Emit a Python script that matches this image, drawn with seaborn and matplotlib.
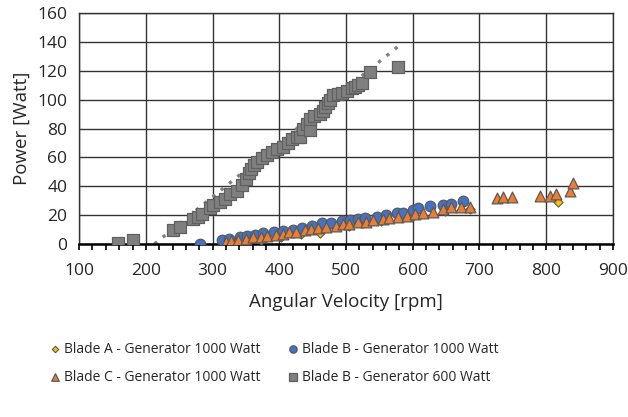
import matplotlib
matplotlib.use("Agg")
import matplotlib.pyplot as plt
import seaborn as sns
import numpy as np
import pandas as pd
from matplotlib.ticker import MultipleLocator

# ---- data ----
a_rpm = [333, 344, 372, 402, 432, 461, 505, 552, 600, 648, 686, 818]
a_pow = [0.5, 0.0, 3.0, 5.0, 7.0, 7.5, 12.5, 16.0, 19.5, 23.0, 24.5, 29.0]

b1_rpm = [281, 314, 325, 341, 352, 364, 376, 392, 406, 420, 434, 449, 464, 478,
          494, 506, 518, 528, 546, 560, 576, 585, 600, 608, 626, 645, 658, 675]
b1_pow = [0.3, 2.7, 3.5, 5.0, 5.5, 6.0, 7.5, 8.0, 9.0, 10.0, 11.0, 12.5, 14.4, 14.5,
          16.0, 16.6, 17.5, 18.0, 19.0, 20.0, 21.5, 21.5, 23.5, 24.7, 26.0, 27.0, 28.0, 29.5]

c_rpm = [320, 328, 338, 350, 360, 372, 382, 395, 405, 415, 425, 438, 448, 458, 470,
         485, 495, 505, 518, 530, 540, 555, 565, 578, 592, 603, 615, 630, 645, 658,
         672, 686, 726, 735, 749, 790, 806, 814, 836, 840]
c_pow = [1.5, 2.0, 3.0, 3.5, 4.5, 5.0, 5.5, 6.5, 7.0, 8.0, 8.5, 10.0, 10.5, 11.0, 12.0,
         12.5, 13.5, 14.0, 15.0, 15.5, 16.5, 17.0, 18.0, 19.0, 19.5, 21.0, 21.5, 22.0, 24.0, 25.5,
         25.5, 25.5, 32.0, 32.5, 32.5, 33.0, 33.5, 34.5, 37.0, 42.0]

b6_rpm = [158, 181, 241, 251, 271, 278, 284, 296, 301, 311, 318, 326, 337, 344, 350,
          354, 358, 362, 367, 374, 381, 389, 397, 406, 413, 419, 426, 431, 436, 442,
          446, 446, 452, 461, 465, 469, 473, 476, 481, 488, 494, 502, 509, 513, 518,
          524, 536, 578]
b6_pow = [0.5, 2.5, 9.7, 12.0, 17.0, 19.0, 20.5, 25.0, 27.0, 29.0, 31.0, 35.0, 37.0, 41.0, 45.0,
          49.0, 52.0, 55.0, 57.0, 59.5, 62.0, 64.0, 66.0, 67.0, 70.0, 73.0, 74.0, 74.5, 80.0, 83.0,
          79.0, 87.0, 89.0, 90.0, 92.0, 95.0, 98.0, 100.0, 103.0, 104.0, 105.0, 106.0, 108.0, 109.0, 110.0,
          112.0, 119.0, 123.0]

# linear trendline of the 600 W series, as drawn in the reference (end points)
trend_rpm = [213, 578]
trend_pow = [0.0, 137.0]

labels = ["Blade A - Generator 1000 Watt", "Blade B - Generator 1000 Watt",
          "Blade C - Generator 1000 Watt", "Blade B - Generator 600 Watt"]
x_ticks = [100, 200, 300, 400, 500, 600, 700, 800, 900]
y_ticks = [0, 20, 40, 60, 80, 100, 120, 140, 160]

dfA = pd.DataFrame({"rpm": a_rpm, "power": a_pow})
dfB1 = pd.DataFrame({"rpm": b1_rpm, "power": b1_pow})
dfC = pd.DataFrame({"rpm": c_rpm, "power": c_pow})
dfB6 = pd.DataFrame({"rpm": b6_rpm, "power": b6_pow})
dfT = pd.DataFrame({"rpm": trend_rpm, "power": trend_pow})

sns.set_style("white", {"axes.grid": True, "grid.color": "#333333"})
plt.rcParams["font.family"] = ["Open Sans", "DejaVu Sans"]
plt.rcParams["grid.linewidth"] = 1.0

fig = plt.figure(figsize=(6.28, 4.17), dpi=100)
ax = fig.add_axes([0.126, 0.415, 0.850, 0.553])

edge = "#5a5a5a"
sns.lineplot(data=dfT, x="rpm", y="power", ax=ax, color="#808080",
             linestyle=(0, (1, 2.2)), linewidth=2.4, zorder=2, legend=False)
sns.scatterplot(data=dfA, x="rpm", y="power", ax=ax, marker="D", s=22,
                color="#FFC000", edgecolor=edge, linewidth=0.8, label=labels[0], zorder=3)
sns.scatterplot(data=dfB1, x="rpm", y="power", ax=ax, marker="o", s=58,
                color="#4472C4", edgecolor=edge, linewidth=0.9, label=labels[1], zorder=4)
sns.scatterplot(data=dfC, x="rpm", y="power", ax=ax, marker="^", s=60,
                color="#ED7D31", edgecolor=edge, linewidth=0.9, label=labels[2], zorder=5)
sns.scatterplot(data=dfB6, x="rpm", y="power", ax=ax, marker="s", s=72,
                color="#7F7F7F", edgecolor="#606060", linewidth=0.9, label=labels[3], zorder=6)

ax.set_xlim(100, 900)
ax.set_ylim(0, 160)
ax.set_xticks(x_ticks)
ax.set_yticks(y_ticks)
ax.xaxis.set_minor_locator(MultipleLocator(20))
ax.grid(True, which="major", axis="both", color="#333333", linewidth=1.0)
ax.grid(False, which="minor")
ax.set_axisbelow(True)
for s in ["top", "right", "left"]:
    ax.spines[s].set_visible(True)
    ax.spines[s].set_color("#333333")
    ax.spines[s].set_linewidth(1.0)
ax.spines["bottom"].set_color("black")
ax.spines["bottom"].set_linewidth(1.8)
ax.tick_params(axis="x", which="both", direction="out", bottom=True, length=4,
               width=1.2, color="black", labelsize=12.5, pad=10)
ax.tick_params(axis="y", which="both", left=False, labelsize=12.5, pad=5)
ax.set_xlabel("Angular Velocity [rpm]", fontsize=13.5, labelpad=10)
ax.set_ylabel("Power [Watt]", fontsize=13.5, labelpad=5)

handles, labs = ax.get_legend_handles_labels()
if ax.legend_:
    ax.legend_.remove()
order = [0, 2, 1, 3]
fig.legend([handles[i] for i in order], [labs[i] for i in order],
           loc="upper left", bbox_to_anchor=(0.057, 0.21), ncol=2, frameon=False,
           fontsize=10, handletextpad=0.1, columnspacing=1.9, labelspacing=0.95,
           markerscale=0.7, handlelength=1.0)

fig.savefig("out.png", dpi=100)
